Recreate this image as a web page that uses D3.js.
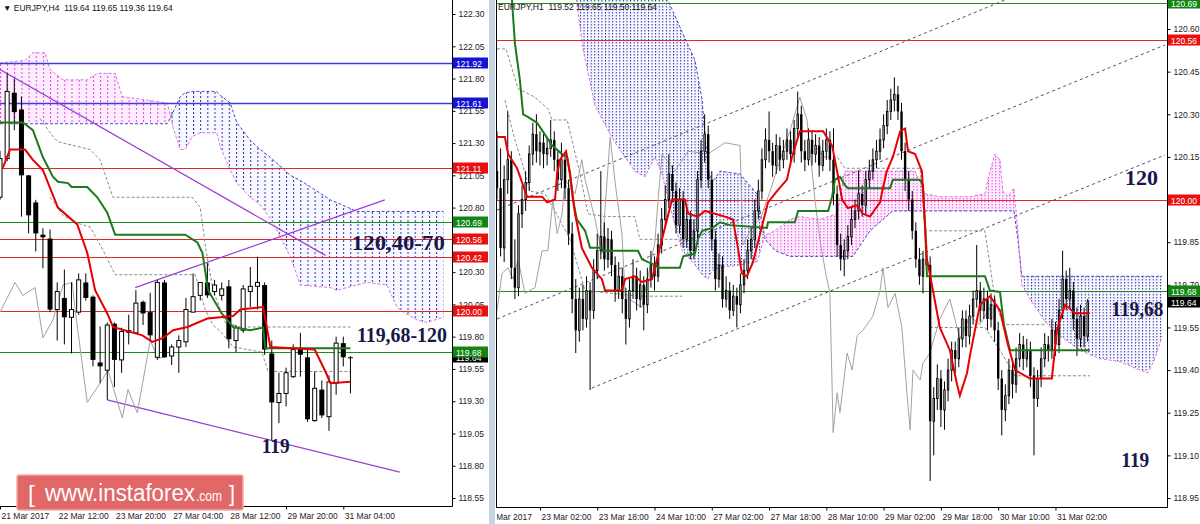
<!DOCTYPE html>
<html><head><meta charset="utf-8">
<script src="https://cdn.jsdelivr.net/npm/d3@7"></script>
<style>body{margin:0;background:#fff;overflow:hidden} svg{display:block} text{white-space:pre}</style>
</head><body><svg id="c" width="1200" height="524"></svg>
<script>
// ===================== DATA: EURJPY H4 (left) =====================
const h4Header = "\u25BC EURJPY,H4  119.64 119.65 119.36 119.64";
const h4TimeIdx = [0, 8, 16, 24, 32, 40, 48];
const h4TimeLabels = ["21 Mar 2017","22 Mar 12:00","23 Mar 20:00","27 Mar 04:00","28 Mar 12:00","29 Mar 20:00","31 Mar 04:00"];
const h4Ticks = [122.30,122.05,121.80,121.55,121.30,121.05,120.80,120.30,120.05,119.80,119.55,119.30,119.05,118.80,118.55];
// [open, high, low, close]
const h4Bars = [
[120.88,121.24,120.86,121.18],[121.18,121.84,121.16,121.70],[121.69,121.80,121.40,121.54],[121.56,121.66,120.73,121.05],
[121.05,121.05,120.60,120.74],[120.84,120.86,120.46,120.60],[120.59,120.64,120.33,120.57],[120.56,120.63,119.99,120.01],
[120.01,120.22,119.77,120.15],[120.10,120.32,119.74,119.95],[119.95,120.22,119.67,120.01],[119.99,120.29,119.97,120.24],
[120.22,120.29,120.08,120.10],[120.11,120.12,119.57,119.62],[119.60,119.88,119.44,119.57],[119.54,119.91,119.31,119.89],
[119.90,119.91,119.41,119.62],[119.62,119.87,119.52,119.84],[119.85,119.97,119.74,119.83],[119.83,120.16,119.83,120.06],
[120.07,120.08,119.89,119.98],[119.99,120.14,119.77,119.81],[119.64,120.24,119.62,120.22],[120.22,120.24,119.64,119.64],
[119.65,119.74,119.58,119.72],[119.72,119.81,119.52,119.77],[119.76,120.10,119.72,120.01],[119.99,120.29,119.99,120.11],
[120.12,120.22,120.08,120.22],[120.22,120.37,120.10,120.12],[120.15,120.24,120.12,120.20],[120.12,120.22,120.08,120.17],
[120.19,120.24,119.71,119.78],[119.77,119.89,119.68,119.87],[119.85,120.20,119.83,120.17],[120.15,120.34,120.03,120.19],
[120.19,120.42,120.01,120.22],[120.20,120.22,119.66,119.70],[119.67,119.77,119.00,119.29],[119.29,119.52,119.13,119.36],
[119.36,119.56,119.26,119.52],[119.49,119.74,119.48,119.70],[119.71,119.83,119.49,119.66],[119.64,119.70,119.14,119.16],
[119.15,119.53,119.14,119.40],[119.39,119.46,119.17,119.19],[119.18,119.50,119.07,119.45],[119.44,119.80,119.35,119.75],
[119.75,119.80,119.57,119.64],[119.64,119.65,119.36,119.64]];
const h4Tenkan = [[0.4,121.11],[1.4,121.25],[3.5,121.25],[4.6,121.17],[6,121.09],[8.1,120.80],[10.8,120.67],[12.2,120.45],[13.3,120.16],[15,119.98],[15.8,119.875],[19.9,119.81],[21.3,119.76],[22.8,119.79],[24.2,119.85],[26.2,119.875],[29,119.94],[32.6,119.96],[33.6,120.01],[36.8,120.03],[37.8,119.72],[44,119.70],[45.5,119.53],[46.2,119.44],[49,119.45]];
const h4Kijun = [[0,121.46],[3.2,121.46],[4.6,121.40],[6,121.19],[7.4,121.04],[8.1,121.00],[9.5,120.99],[10,120.96],[12.2,120.96],[13.6,120.88],[15,120.76],[16.1,120.59],[25.9,120.59],[27.6,120.53],[28.3,120.45],[29.1,120.16],[31,119.98],[32.6,119.875],[35,119.85],[36.8,119.87],[37.1,119.71],[49,119.71]];
const h4Chikou = [[0,119.99],[2.1,120.22],[3.2,120.12],[4.9,120.18],[6.0,119.79],[7.4,119.93],[8.8,120.20],[10.1,120.22],[10.5,120.01],[12.2,119.29],[14.0,119.44],[15.1,119.54],[17.1,119.17],[17.9,119.39],[19.2,119.21],[21.0,119.77],[22.1,119.635],[23.1,119.64]];
const h4CloudIdx = [0,3.5,4.6,6.3,7,8.8,12.2,13.6,16.1,17.1,23.4,24.2,25.2,25.9,26.9,28,30.3,30.8,32.2,33.1,35,36.4,38,40.6,42,46.2,47.1,49.9,51.3,54.1,55.5,56.4,58.3,59.7,62];
const h4SpanA = [121.45,121.45,121.45,121.45,121.45,121.45,121.45,121.45,121.45,121.45,121.45,121.54,121.66,121.69,121.70,121.70,121.70,121.67,121.61,121.46,121.32,121.25,121.18,121.05,121.01,120.86,120.84,120.77,120.77,120.77,120.77,120.77,120.77,120.77,120.77];
const h4SpanB = [121.92,121.94,122.00,122.00,121.87,121.79,121.79,121.84,121.84,121.66,121.61,121.42,121.25,121.25,121.35,121.38,121.38,121.27,121.09,120.99,120.88,120.82,120.70,120.42,120.20,120.18,120.16,120.20,120.22,120.20,120.03,119.99,119.93,119.91,119.95];
const h4Dashed = [
 [[5.6,121.49],[7.4,121.35],[8.1,121.31],[12.6,121.25],[14,121.17],[15.8,120.88],[26.9,120.88],[28,120.80],[28.8,120.47],[29.8,120.16],[31.5,119.91],[33.6,119.875],[49,119.875]],
 [[7,120.88],[8.8,120.74],[10.8,120.68],[12.6,120.65],[14.4,120.47],[16.1,120.28],[27.3,120.28],[28.7,120.01],[29.8,119.89],[31,119.83],[32.6,119.72],[36.6,119.68],[37.5,119.53],[49,119.53]]];
const h4Trend = [[[0,121.87],[45.5,120.43]], [[18.9,120.18],[53.8,120.86]], [[15,119.31],[55.9,118.75]]];
const h4Levels = [121.92,121.61,121.11,120.69,120.56,120.42,120.00,119.68];
const h4LevelKind = ["b","b","r","g","r","r","r","g"];
const h4Price = 119.64;
const h4Notes = [{t:"120,40-70", i:49.2, v:120.47, len:93},{t:"119,68-120", i:49.9, v:119.76, len:90},{t:"119", i:36.6, v:118.90, len:28}];

// ===================== DATA: EURJPY H1 (right) =====================
const h1Header = "EURJPY,H1  119.52 119.65 119.50 119.64";
const h1TimeIdx = [-4,12,28,44,60,76,92,108,124,140,156];
const h1TimeLabels = ["22 Mar 2017","23 Mar 02:00","23 Mar 18:00","24 Mar 10:00","27 Mar 02:00","27 Mar 18:00","28 Mar 10:00","29 Mar 02:00","29 Mar 18:00","30 Mar 10:00","31 Mar 02:00"];
const h1Ticks = [120.60,120.45,120.30,120.15,119.85,119.70,119.55,119.40,119.25,119.10,118.95];
const h1Bars = [
[120.10,120.24,120.00,120.04],[120.04,120.18,119.80,119.83],[119.83,120.12,119.78,120.07],[120.07,120.31,120.02,120.14],
[120.14,120.17,119.72,119.76],[119.76,119.86,119.65,119.69],[119.69,119.98,119.66,119.95],[119.95,120.05,119.90,120.00],
[120.00,120.10,119.96,120.06],[120.06,120.19,120.03,120.16],[120.16,120.27,120.12,120.23],[120.23,120.30,120.13,120.17],
[120.17,120.24,120.12,120.20],[120.20,120.23,120.11,120.16],[120.16,120.22,120.12,120.18],[120.18,120.28,120.15,120.21],
[120.21,120.24,120.10,120.14],[120.14,120.17,120.03,120.07],[120.07,120.20,120.04,120.14],[120.14,120.16,120.00,120.04],
[120.04,120.07,119.84,119.88],[119.88,119.92,119.60,119.65],[119.65,119.72,119.46,119.54],[119.54,119.69,119.50,119.65],
[119.65,119.70,119.54,119.58],[119.58,119.73,119.55,119.68],[119.68,119.71,119.33,119.61],[119.61,119.79,119.58,119.75],
[119.75,119.88,119.72,119.82],[119.82,120.10,119.79,119.87],[119.87,119.92,119.75,119.79],[119.79,119.90,119.76,119.86],
[119.86,119.89,119.73,119.77],[119.77,119.80,119.64,119.68],[119.68,119.78,119.65,119.73],[119.73,119.76,119.60,119.65],
[119.65,119.69,119.49,119.58],[119.58,119.72,119.55,119.68],[119.68,119.79,119.65,119.73],[119.73,119.76,119.61,119.65],
[119.65,119.75,119.62,119.70],[119.70,119.73,119.54,119.63],[119.63,119.76,119.60,119.72],[119.72,119.82,119.69,119.77],
[119.77,119.80,119.68,119.73],[119.73,119.88,119.71,119.84],[119.84,119.97,119.81,119.93],[119.93,120.05,119.90,120.00],
[120.00,120.16,119.97,120.09],[120.09,120.12,119.99,120.03],[120.03,120.06,119.88,119.91],[119.91,120.04,119.88,120.00],
[120.00,120.03,119.83,119.86],[119.86,119.97,119.83,119.93],[119.93,119.96,119.79,119.82],[119.82,119.93,119.79,119.89],
[119.89,120.10,119.86,120.07],[120.07,120.21,120.04,120.17],[120.17,120.30,120.13,120.23],[120.23,120.26,120.04,120.07],
[120.07,120.10,119.82,119.86],[119.86,119.89,119.68,119.72],[119.72,119.81,119.69,119.77],[119.77,119.80,119.62,119.65],
[119.65,119.73,119.62,119.68],[119.68,119.71,119.58,119.61],[119.61,119.70,119.59,119.66],[119.66,119.69,119.55,119.63],
[119.63,119.74,119.60,119.70],[119.70,119.79,119.67,119.75],[119.75,119.86,119.72,119.82],[119.82,119.90,119.79,119.86],
[119.86,120.00,119.83,119.96],[119.96,120.07,119.93,120.03],[120.03,120.18,120.00,120.14],[120.14,120.25,120.11,120.21],
[120.21,120.31,120.13,120.17],[120.17,120.20,120.08,120.12],[120.12,120.23,120.09,120.19],[120.19,120.22,120.10,120.14],
[120.14,120.21,120.11,120.17],[120.17,120.25,120.14,120.21],[120.21,120.24,120.12,120.16],[120.16,120.28,120.13,120.25],
[120.25,120.38,120.22,120.30],[120.30,120.33,120.13,120.17],[120.17,120.21,120.10,120.14],[120.14,120.25,120.12,120.21],
[120.21,120.24,120.12,120.16],[120.16,120.23,120.13,120.19],[120.19,120.22,120.08,120.12],[120.12,120.21,120.10,120.17],
[120.17,120.25,120.14,120.21],[120.21,120.24,120.10,120.14],[120.14,120.25,119.98,120.02],[120.02,120.05,119.80,119.84],
[119.84,119.88,119.75,119.79],[119.79,119.86,119.73,119.82],[119.82,119.91,119.79,119.87],[119.87,119.97,119.84,119.93],
[119.93,120.00,119.90,119.96],[119.96,120.10,119.93,120.02],[120.02,120.05,119.94,119.98],[119.98,120.10,119.95,120.07],
[120.07,120.14,120.04,120.10],[120.10,120.18,120.07,120.14],[120.14,120.21,120.11,120.17],[120.17,120.25,120.14,120.21],
[120.21,120.30,120.18,120.26],[120.26,120.35,120.23,120.31],[120.31,120.39,120.28,120.35],[120.35,120.43,120.31,120.37],
[120.37,120.40,120.28,120.31],[120.31,120.34,120.14,120.17],[120.17,120.20,120.03,120.07],[120.07,120.10,119.96,120.00],
[120.00,120.03,119.86,119.89],[119.89,119.92,119.76,119.79],[119.79,119.83,119.70,119.73],[119.73,119.82,119.67,119.79],
[119.79,119.84,119.74,119.77],[119.77,119.80,119.01,119.22],[119.22,119.34,119.10,119.30],[119.30,119.42,119.26,119.37],
[119.37,119.40,119.20,119.26],[119.26,119.36,119.19,119.33],[119.33,119.44,119.29,119.40],[119.40,119.50,119.36,119.47],
[119.47,119.50,119.39,119.44],[119.44,119.55,119.41,119.51],[119.51,119.61,119.48,119.58],[119.58,119.61,119.48,119.52],
[119.52,119.63,119.49,119.59],[119.59,119.68,119.56,119.65],[119.65,119.84,119.62,119.68],[119.68,119.71,119.57,119.61],
[119.61,119.69,119.58,119.65],[119.65,119.68,119.54,119.58],[119.58,119.67,119.55,119.63],[119.63,119.66,119.50,119.54],
[119.54,119.57,119.33,119.37],[119.37,119.40,119.17,119.26],[119.26,119.35,119.22,119.31],[119.31,119.44,119.28,119.40],
[119.40,119.43,119.30,119.35],[119.35,119.48,119.32,119.44],[119.44,119.53,119.41,119.49],[119.49,119.52,119.40,119.44],
[119.44,119.51,119.41,119.47],[119.47,119.50,119.34,119.38],[119.38,119.41,119.10,119.30],[119.30,119.40,119.27,119.37],
[119.37,119.48,119.34,119.44],[119.44,119.53,119.41,119.49],[119.49,119.52,119.43,119.47],[119.47,119.58,119.44,119.54],
[119.54,119.57,119.45,119.49],[119.49,119.65,119.46,119.61],[119.61,119.82,119.58,119.72],[119.72,119.75,119.61,119.65],
[119.65,119.76,119.62,119.68],[119.68,119.71,119.54,119.58],[119.58,119.62,119.45,119.51],[119.51,119.63,119.48,119.59],
[119.59,119.62,119.48,119.52],[119.52,119.65,119.50,119.64]];
const h1Tenkan = [[0,120.22],[2.2,120.22],[3.1,120.16],[5.6,120.11],[8.4,120.01],[12.6,120.01],[14.0,119.99],[16.2,120.00],[16.8,120.09],[17.6,120.14],[19.3,120.17],[20.4,120.09],[21.8,119.95],[23.7,119.83],[26.5,119.76],[29.3,119.72],[30.2,119.68],[34.9,119.68],[35.8,119.72],[38.5,119.73],[40.5,119.71],[43.3,119.72],[44.7,119.79],[46.1,119.86],[48.9,120.00],[52.5,120.00],[53.4,119.95],[56.1,119.94],[58.1,119.96],[63.7,119.94],[65.9,119.93],[67.3,119.83],[68.4,119.74],[69.8,119.73],[71.5,119.78],[73.5,119.88],[75.7,119.99],[78.2,120.03],[81.0,120.07],[82.4,120.15],[84.6,120.24],[91.1,120.24],[93.6,120.19],[95.0,120.10],[96.4,120.00],[98.0,119.97],[100.6,119.98],[102.2,119.95],[104.2,119.94],[107.0,119.99],[107.8,120.04],[108.9,120.10],[110.6,120.15],[112.6,120.24],[114.0,120.25],[114.8,120.17],[116.8,120.16],[118.7,120.10],[120.1,119.79],[120.9,119.74],[123.7,119.55],[126.5,119.47],[128.5,119.35],[129.3,119.31],[131.3,119.39],[132.1,119.45],[134.9,119.63],[137.7,119.66],[140.5,119.61],[142.7,119.49],[144.7,119.40],[148.9,119.37],[155.0,119.37],[156.4,119.54],[158.7,119.63],[161.5,119.60],[165.6,119.60]];
const h1Kijun = [[2.2,120.84],[4.2,120.70],[5.0,120.55],[6.4,120.42],[7.3,120.30],[8.7,120.29],[11.2,120.27],[12.8,120.24],[15.4,120.19],[18.2,120.16],[19.6,120.15],[20.4,120.09],[21.2,120.00],[22.3,119.93],[24.6,119.89],[26.0,119.83],[29.3,119.83],[29.6,119.82],[39.4,119.82],[40.5,119.79],[42.2,119.78],[44.1,119.77],[45.0,119.76],[51.1,119.76],[52.0,119.80],[55.3,119.81],[56.1,119.86],[57.3,119.89],[60.1,119.90],[62.3,119.92],[65.1,119.91],[75.4,119.90],[75.7,119.92],[83.2,119.92],[84.1,119.96],[92.5,119.96],[93.6,120.01],[94.4,120.07],[95.8,120.08],[97.2,120.05],[98.0,120.04],[109.8,120.04],[110.6,120.07],[118.2,120.07],[119.0,120.05],[119.6,119.90],[120.1,119.73],[136.3,119.73],[137.7,119.68],[140.5,119.675],[141.6,119.56],[143.3,119.47],[165.6,119.47]];
const h1Chikou = [[0,119.61],[1.4,119.74],[3.1,119.76],[4.5,119.72],[5.9,119.79],[7.8,119.67],[10.6,119.69],[12.6,119.82],[14.2,119.82],[15.6,120.00],[16.8,119.88],[18.2,119.95],[19.0,120.07],[21.8,120.02],[23.7,120.14],[24.6,120.07],[27.4,119.93],[29.3,119.81],[31.6,120.22],[33.0,120.06],[34.9,119.88],[35.8,119.66],[40.5,119.62],[42.2,119.73],[44.1,119.85],[45.0,120.00],[46.1,120.16],[49.7,120.10],[53.4,120.17],[58.9,120.16],[63.7,120.20],[67.9,120.19],[68.7,119.84],[71.5,119.91],[73.5,119.93],[76.3,120.03],[79.1,120.14],[81.8,120.24],[84.6,120.36],[86.6,120.28],[88.8,120.00],[90.2,119.86],[91.9,119.735],[93.0,119.67],[93.9,119.18],[95.0,119.32],[95.8,119.25],[97.8,119.46],[99.2,119.40],[100.6,119.52],[102.2,119.54],[105.0,119.59],[107.0,119.68],[107.8,119.76],[109.2,119.62],[111.2,119.67],[113.1,119.55],[114.5,119.32],[115.4,119.19],[116.2,119.40],[118.2,119.365],[119.0,119.425],[120.9,119.46],[123.7,119.58],[126.5,119.65],[129.3,119.51],[132.1,119.59],[134.9,119.56],[137.2,119.61],[139.1,119.64]];
const h1CloudIdx = [21.8,24.0,27.4,31.6,33.0,38.5,41.3,44.1,46.1,47.8,51.7,55.3,57.3,58.9,60.1,62.3,67.9,72.6,74.9,77.7,81.8,84.6,90.2,95.0,97.2,99.4,104.2,110.6,116.8,119.6,123.7,132.1,136.3,137.7,139.1,140.5,141.3,142.7,144.4,145.5,146.6,148.9,153.1,157.3,162.8,168.4,174.0,179.6,181.8,183.8,185.8];
const h1SpanA = [120.98,120.95,120.91,120.88,120.86,120.81,120.77,120.74,120.72,120.70,120.59,120.49,120.35,120.11,120.06,120.10,120.09,120.02,119.86,119.82,119.80,119.80,119.80,119.80,119.80,119.80,119.89,119.96,119.96,119.96,119.96,119.96,119.96,119.96,119.96,119.96,119.96,119.96,119.96,119.86,119.73,119.73,119.73,119.73,119.73,119.73,119.73,119.73,119.73,119.73,119.73];
const h1SpanB = [120.74,120.53,120.33,120.23,120.20,120.10,120.08,120.15,120.09,120.00,119.82,119.77,119.735,119.72,119.75,119.76,119.77,119.78,119.875,119.89,119.93,119.94,119.93,119.95,120.10,120.10,120.10,120.10,120.10,120.02,120.01,120.01,120.02,120.10,120.16,120.14,120.03,120.01,120.04,119.89,119.70,119.65,119.57,119.52,119.47,119.44,119.43,119.40,119.39,119.44,119.52];
const h1Dashed = [
 [[0,120.53],[2.5,120.53],[5.9,120.39],[10.6,120.36],[14.2,120.32],[15.4,120.28],[19.6,120.28],[23.2,120.09],[25.4,119.95],[30.2,119.94],[38.5,119.94],[39.9,119.86],[51.7,119.86]],
 [[2.2,120.35],[5.0,120.21],[7.0,120.13],[9.2,120.03],[13.4,120.02],[16.2,119.96],[20.4,119.86],[24.6,119.68],[39.9,119.66],[51.7,119.66]],
 [[88.0,120.21],[91.1,120.15],[95.0,120.15],[97.2,120.11],[118.2,120.11],[119.6,119.89],[136.3,119.89],[139.1,119.65],[141.3,119.56],[153.1,119.56]],
 [[120.9,119.55],[136.3,119.55],[140.5,119.47],[144.7,119.38],[165.6,119.38]]];
const h1Channel = [[[0,119.963],[141.9,120.702]], [[0,119.58],[186.6,120.544]], [[26.5,119.337],[186.6,120.157]]];
const h1Levels = [120.69,120.56,120.00,119.68];
const h1LevelKind = ["g","r","r","g"];
const h1Price = 119.64;
const h1Notes = [{t:"120", i:175.4, v:120.05, len:33},{t:"119,68", i:171.6, v:119.59, len:52},{t:"119", i:174.4, v:119.06, len:28}];

// ===================== DRAWING =====================
const svg = d3.select("#c");
const defs = svg.append("defs");
const FONT = "Liberation Sans, Arial, sans-serif";
const kindStroke = {b:"#3d3de0", r:"#e02828", g:"#1f8a1f"};
const kindFill = {b:"#1414d2", r:"#e81010", g:"#128412"};

function clip(id, x, y, w, h){
  defs.append("clipPath").attr("id", id).append("rect").attr("x", x).attr("y", y).attr("width", w).attr("height", h);
}
function pattern(id, w, h, dotH, color){
  const p = defs.append("pattern").attr("id", id).attr("patternUnits","userSpaceOnUse").attr("width", w).attr("height", h);
  p.append("rect").attr("x",0).attr("y",0).attr("width",1).attr("height",dotH).attr("fill",color);
}
clip("clipL", 0, 0, 452, 506);
clip("clipR", 496.5, 0, 670.5, 507);
clip("clipRAxis", 497, 500, 703, 24);
pattern("pBlueL", 7.15, 4, 2, "#2c2cb8"); pattern("pPinkL", 7.15, 4, 2, "#e83ce8");
pattern("pBlueR", 3.58, 3, 1.5, "#2a2ab0"); pattern("pPinkR", 3.58, 3, 1.4, "#e83ce8");

svg.append("rect").attr("width",1200).attr("height",524).attr("fill","#fff");

function drawPanel(p){
  const X = p.x, Y = p.y;
  const g = svg.append("g").attr("clip-path", `url(#${p.clip})`);
  // Ichimoku cloud
  const ii = d3.range(p.cloudIdx.length);
  const blueArea = d3.area().x(i=>X(p.cloudIdx[i])).y0(i=>Y(p.spanB[i])).y1(i=>Y(Math.max(p.spanA[i],p.spanB[i])));
  const pinkArea = d3.area().x(i=>X(p.cloudIdx[i])).y0(i=>Y(p.spanA[i])).y1(i=>Y(Math.max(p.spanA[i],p.spanB[i])));
  g.append("path").attr("d", pinkArea(ii)).attr("fill","#fdeefd");
  g.append("path").attr("d", blueArea(ii)).attr("fill","#f8f8ff");
  g.append("path").attr("d", pinkArea(ii)).attr("fill",`url(#${p.patPink})`);
  g.append("path").attr("d", blueArea(ii)).attr("fill",`url(#${p.patBlue})`);
  g.append("path").attr("d", d3.line().x(i=>X(p.cloudIdx[i])).y(i=>Y(p.spanA[i]))(ii))
    .attr("fill","none").attr("stroke","#4646c8").attr("stroke-width",1).attr("stroke-dasharray","3,2");
  g.append("path").attr("d", d3.line().x(i=>X(p.cloudIdx[i])).y(i=>Y(p.spanB[i]))(ii))
    .attr("fill","none").attr("stroke","#e070e0").attr("stroke-width",1).attr("stroke-dasharray","3,2");
  // horizontal levels
  p.levels.forEach((v,k)=>{
    const yy = Math.round(Y(v)) + 0.5;
    g.append("line").attr("x1",p.x0).attr("x2",p.x1).attr("y1",yy).attr("y2",yy)
      .attr("stroke", kindStroke[p.kinds[k]]).attr("stroke-width", p.kinds[k]==="b"?1.6:1.1);
  });
  const ln = d3.line().x(d=>X(d[0])).y(d=>Y(d[1]));
  p.trend.forEach(t=> g.append("path").attr("d", ln(t)).attr("fill","none")
      .attr("stroke", p.trendColor).attr("stroke-width", p.trendWidth).attr("stroke-dasharray", p.trendDash));
  p.dashed.forEach(t=> g.append("path").attr("d", ln(t)).attr("fill","none")
      .attr("stroke","#8a8a8a").attr("stroke-width",1).attr("stroke-dasharray","3,2"));
  g.append("path").attr("d", ln(p.chikou)).attr("fill","none").attr("stroke","#a2a2a2").attr("stroke-width",1);
  // candles
  const w = p.bodyW;
  p.bars.forEach((b,i)=>{
    const [o,h,l,c] = b, cx = X(i);
    g.append("line").attr("x1",cx).attr("x2",cx).attr("y1",Y(h)).attr("y2",Y(l)).attr("stroke","#000").attr("stroke-width",1);
    const top = Y(Math.max(o,c)), bot = Y(Math.min(o,c));
    const hgt = Math.max(bot-top, 1);
    if (c > o) {
      g.append("rect").attr("x",cx-w/2+0.5).attr("y",top).attr("width",w-1).attr("height",hgt)
        .attr("fill","#fff").attr("stroke","#000").attr("stroke-width",1);
    } else {
      g.append("rect").attr("x",cx-w/2).attr("y",top).attr("width",w).attr("height",hgt).attr("fill","#000");
    }
  });
  g.append("path").attr("d", ln(p.kijun)).attr("fill","none").attr("stroke","#1c7a1c").attr("stroke-width",2);
  g.append("path").attr("d", ln(p.tenkan)).attr("fill","none").attr("stroke","#e80000").attr("stroke-width",2);
  p.notes.forEach(n=> g.append("text").attr("x",X(n.i)).attr("y",Y(n.v)).text(n.t)
    .attr("font-family","Liberation Serif, Times New Roman, serif").attr("font-weight","bold")
    .attr("font-size",21).attr("textLength",n.len).attr("lengthAdjust","spacingAndGlyphs").attr("fill","#17174a"));
}

// ---------- left panel ----------
const xL = d3.scaleLinear().domain([0, 63.2]).range([0, 452]);
const yL = d3.scaleLinear().domain([118.55, 122.30]).range([498, 14]);
drawPanel({x:xL, y:yL, clip:"clipL", x0:0, x1:452, cloudIdx:h4CloudIdx, spanA:h4SpanA, spanB:h4SpanB,
  patBlue:"pBlueL", patPink:"pPinkL", levels:h4Levels, kinds:h4LevelKind, trend:h4Trend,
  trendColor:"#9a3cd6", trendWidth:1.2, trendDash:null, dashed:h4Dashed, chikou:h4Chikou,
  bars:h4Bars, bodyW:5, kijun:h4Kijun, tenkan:h4Tenkan, notes:h4Notes});

// ---------- right panel ----------
const xR = d3.scaleLinear().domain([0, 186.6]).range([497, 1165]);
const yR = d3.scaleLinear().domain([118.95, 120.60]).range([498, 29]);
drawPanel({x:xR, y:yR, clip:"clipR", x0:496, x1:1167, cloudIdx:h1CloudIdx, spanA:h1SpanA, spanB:h1SpanB,
  patBlue:"pBlueR", patPink:"pPinkR", levels:h1Levels, kinds:h1LevelKind, trend:h1Channel,
  trendColor:"#50506e", trendWidth:1, trendDash:"3,3", dashed:h1Dashed, chikou:h1Chikou,
  bars:h1Bars, bodyW:2.4, kijun:h1Kijun, tenkan:h1Tenkan, notes:h1Notes});

// ---------- frames, separator ----------
svg.append("rect").attr("x",489).attr("y",0).attr("width",6).attr("height",524).attr("fill","#c6d4e2");
[[452.5,0,452.5,506.5],[0,506.5,452.5,506.5],[1167.5,0,1167.5,507.5],[496,507.5,1167.5,507.5],[496.5,0,496.5,507.5]]
 .forEach(s=> svg.append("line").attr("x1",s[0]).attr("y1",s[1]).attr("x2",s[2]).attr("y2",s[3]).attr("stroke","#000").attr("stroke-width",1));

// ---------- axes ----------
function styleAxis(sel){
  sel.attr("font-family", FONT).attr("font-size", 8.5);
  sel.select(".domain").remove();
  sel.selectAll("text").attr("fill","#222");
  sel.selectAll("line").attr("stroke","#000");
}
svg.append("g").attr("transform","translate(452.5,0)")
  .call(d3.axisRight(yL).tickValues(h4Ticks).tickSize(3).tickFormat(d3.format(".2f"))).call(styleAxis);
svg.append("g").attr("transform","translate(1167.5,0)")
  .call(d3.axisRight(yR).tickValues(h1Ticks).tickSize(3).tickFormat(d3.format(".2f"))).call(styleAxis);
const bxL = svg.append("g").attr("transform","translate(0,506.5)")
  .call(d3.axisBottom(xL).tickValues(h4TimeIdx).tickSize(3).tickFormat((d,i)=>h4TimeLabels[i])).call(styleAxis);
bxL.selectAll("text").attr("text-anchor","start").attr("dx",1);
const bxR = svg.append("g").attr("clip-path","url(#clipRAxis)").append("g").attr("transform","translate(0,507.5)")
  .call(d3.axisBottom(xR).tickValues(h1TimeIdx).tickSize(3).tickFormat((d,i)=>h1TimeLabels[i])).call(styleAxis);
bxR.selectAll("text").attr("text-anchor","start").attr("dx",1);

// ---------- price label boxes ----------
function priceBox(x, Y, v, fill){
  const yy = Math.round(Y(v));
  svg.append("rect").attr("x",x).attr("y",yy-5.5).attr("width",35).attr("height",11).attr("fill",fill);
  svg.append("text").attr("x",x+3).attr("y",yy+3.5).text(d3.format(".2f")(v))
    .attr("font-family",FONT).attr("font-size",8.5).attr("fill","#fff");
}
priceBox(453, yL, h4Price, "#000");
h4Levels.forEach((v,k)=>priceBox(453, yL, v, kindFill[h4LevelKind[k]]));
priceBox(1168, yR, h1Price, "#000");
h1Levels.forEach((v,k)=>priceBox(1168, yR, v, kindFill[h1LevelKind[k]]));

// ---------- headers ----------
svg.append("text").attr("x",3).attr("y",11).text(h4Header).attr("font-family",FONT).attr("font-size",8.5).attr("fill","#111");
svg.append("text").attr("x",498).attr("y",10).text(h1Header).attr("font-family",FONT).attr("font-size",8.5).attr("fill","#111");

// ---------- logo ----------
const logo = svg.append("g");
logo.append("rect").attr("x",17).attr("y",475).attr("width",226).attr("height",35).attr("rx",2)
  .attr("fill","#e26767").attr("stroke","#f1aaaa").attr("stroke-width",1.5);
logo.append("text").attr("x",28).attr("y",502).text("[").attr("font-family",FONT).attr("font-size",24).attr("fill","#fff");
logo.append("text").attr("x",45).attr("y",501).text("www.instaforex").attr("font-family",FONT).attr("font-size",23)
  .attr("textLength",150).attr("lengthAdjust","spacingAndGlyphs").attr("fill","#fff");
logo.append("text").attr("x",196).attr("y",501).text(".com").attr("font-family",FONT).attr("font-size",14)
  .attr("textLength",26).attr("lengthAdjust","spacingAndGlyphs").attr("fill","#fff");
logo.append("text").attr("x",229).attr("y",501).text("]").attr("font-family",FONT).attr("font-size",22).attr("fill","#fff");
</script></body></html>
